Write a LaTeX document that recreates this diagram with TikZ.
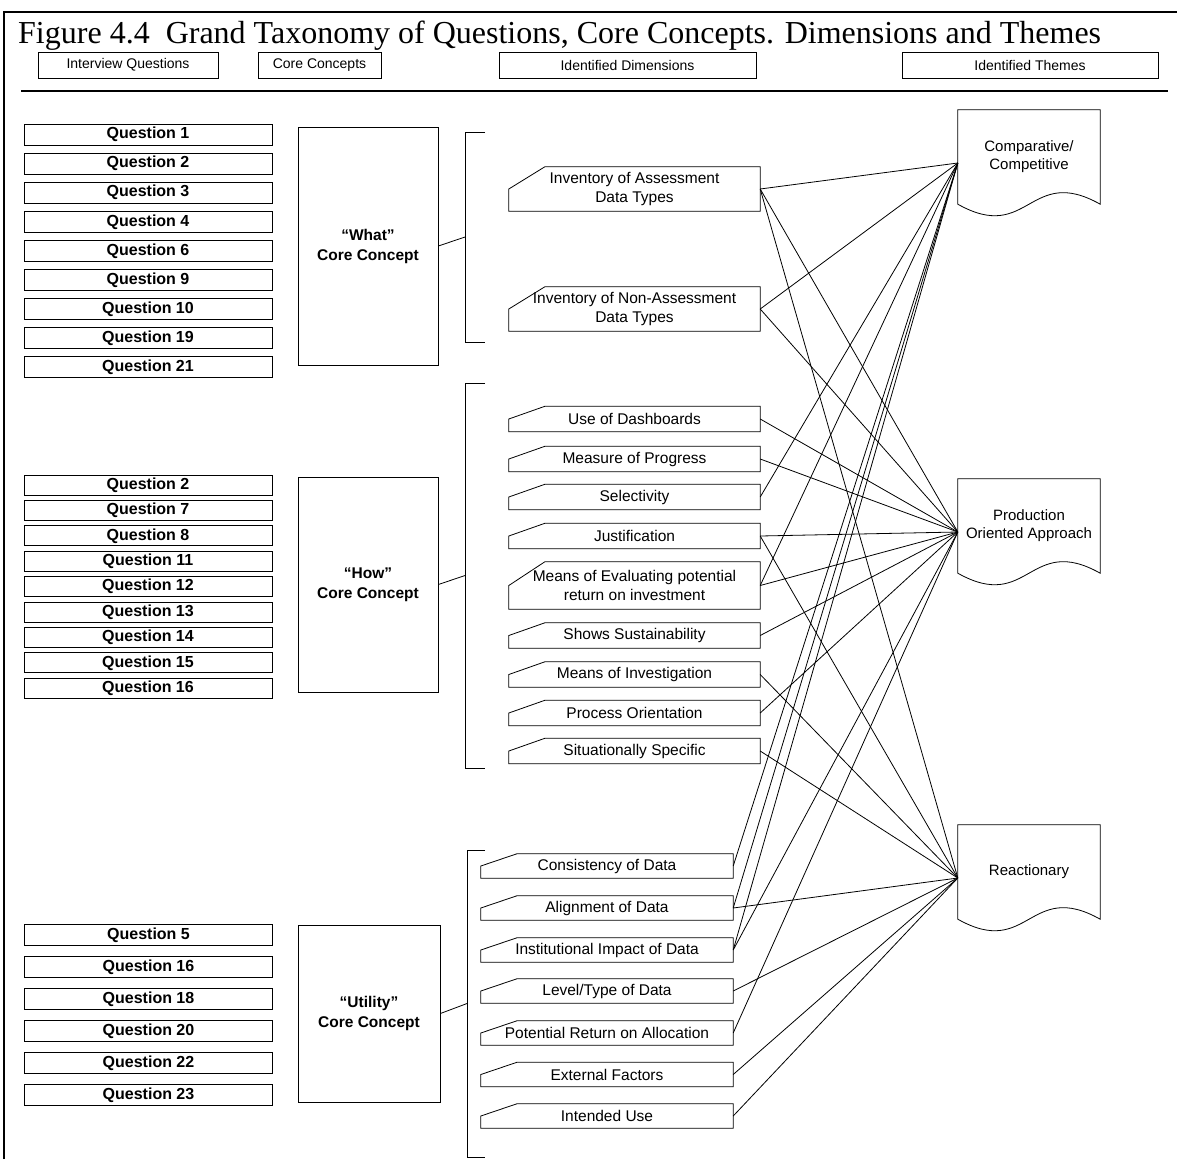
\documentclass[tikz,border=0pt]{standalone}
\usepackage{fontspec}
\setmainfont{Liberation Serif}
\setsansfont{Liberation Sans}
\usetikzlibrary{positioning}
\tikzset{headbox/.style={rectangle,draw=black,line width=0.8pt,inner sep=1pt,
minimum height=26pt,font=\sffamily\fontsize{14}{16}\selectfont}}
\tikzset{qbox/.style={rectangle,draw=black,line width=0.8pt,inner sep=0pt,
minimum width=248pt,minimum height=21pt,font=\sffamily\bfseries\fontsize{16}{18}\selectfont}}
\tikzset{conbox/.style={rectangle,draw=black,line width=0.8pt,align=center,inner sep=2pt,
minimum width=140pt,font=\sffamily\bfseries\fontsize{15.5}{20}\selectfont}}
\tikzset{dimbox/.style={rectangle,draw=none,align=center,inner sep=0pt,
minimum width=251pt,minimum height=25pt,font=\sffamily\fontsize{15.5}{19}\selectfont}}
\tikzset{themebox/.style={rectangle,draw=none,align=center,inner sep=0pt,
minimum width=142pt,minimum height=94pt,font=\sffamily\fontsize{15}{18}\selectfont}}
\tikzset{link/.style={line width=0.8pt}}
\newcommand{\dimshape}[1]{\draw[link] (#1.south west) -- (#1.west) -- ([xshift=36pt]#1.north west)
  -- (#1.north east) -- (#1.south east) -- cycle;}
\newcommand{\themeshape}[1]{\draw[link] (#1.south west) -- (#1.north west) -- (#1.north east)
  -- (#1.south east) .. controls ([yshift=40pt]#1.south) and ([yshift=-40pt]#1.south) .. (#1.south west) -- cycle;}

\begin{document}
\begin{tikzpicture}[x=1pt,y=-1pt]
    \useasboundingbox (0,0) rectangle (1177,1159);

    % frame and title
    \draw[line width=2pt] (4,1159) -- (4,12) -- (1177,12);
    \node[anchor=base west,inner sep=0pt,font=\fontsize{32}{36}\selectfont] (title) at (18,43)
        {Figure 4.4\ \ Grand Taxonomy of Questions, Core Concepts. Dimensions and Themes};

    \node[headbox,minimum width=180pt] (hdrques) at (128,65) {Interview Questions};
    \node[headbox,minimum width=123pt] (hdrcore) at (319.5,65) {Core Concepts};
    \node[headbox,minimum width=257pt] (hdrdims) at (627.5,65) {Identified Dimensions};
    \node[headbox,minimum width=256pt] (hdrthem) at (1030,65) {Identified Themes};
    \draw[line width=2pt] (21,91) -- (1168,91);

    % questions
    \node[qbox] (qwhat1) at (148,134.5) {Question 1};
    \node[qbox] (qwhat2) [below=7.3pt of qwhat1] {Question 2};
    \node[qbox] (qwhat3) [below=7.3pt of qwhat2] {Question 3};
    \node[qbox] (qwhat4) [below=7.3pt of qwhat3] {Question 4};
    \node[qbox] (qwhat5) [below=7.3pt of qwhat4] {Question 6};
    \node[qbox] (qwhat6) [below=7.3pt of qwhat5] {Question 9};
    \node[qbox] (qwhat7) [below=7.3pt of qwhat6] {Question 10};
    \node[qbox] (qwhat8) [below=7.3pt of qwhat7] {Question 19};
    \node[qbox] (qwhat9) [below=7.3pt of qwhat8] {Question 21};

    \node[qbox,minimum height=20pt] (qhow1) at (148,485) {Question 2};
    \node[qbox,minimum height=20pt] (qhow2) [below=4.6pt of qhow1] {Question 7};
    \node[qbox,minimum height=20pt] (qhow3) [below=4.6pt of qhow2] {Question 8};
    \node[qbox,minimum height=20pt] (qhow4) [below=4.6pt of qhow3] {Question 11};
    \node[qbox,minimum height=20pt] (qhow5) [below=4.6pt of qhow4] {Question 12};
    \node[qbox,minimum height=20pt] (qhow6) [below=4.6pt of qhow5] {Question 13};
    \node[qbox,minimum height=20pt] (qhow7) [below=4.6pt of qhow6] {Question 14};
    \node[qbox,minimum height=20pt] (qhow8) [below=4.6pt of qhow7] {Question 15};
    \node[qbox,minimum height=20pt] (qhow9) [below=4.6pt of qhow8] {Question 16};

    \node[qbox] (quse1) at (148.5,935) {Question 5};
    \node[qbox] (quse2) [below=10.2pt of quse1] {Question 16};
    \node[qbox] (quse3) [below=10.2pt of quse2] {Question 18};
    \node[qbox] (quse4) [below=10.2pt of quse3] {Question 20};
    \node[qbox] (quse5) [below=10.2pt of quse4] {Question 22};
    \node[qbox] (quse6) [below=10.2pt of quse5] {Question 23};

    % core concepts and brackets
    \node[conbox,minimum height=238pt] (what) at (368,246) {“What”\\Core Concept};
    \node[conbox,minimum height=215pt] (how) at (368,584.5) {“How”\\Core Concept};
    \node[conbox,minimum height=177pt,minimum width=142pt] (utility) at (369,1013.5) {“Utility”\\Core Concept};

    \coordinate (whatbr) at (465,237);
    \coordinate (howbr) at (465,575.5);
    \coordinate (utilbr) at (467,1003.5);
    \draw[link] (485,132) -- (465,132) -- (465,342) -- (485,342);
    \draw[link] (485,383) -- (465,383) -- (465,768) -- (485,768);
    \draw[link] (485,850) -- (467,850) -- (467,1157) -- (485,1157);
    \draw[link] (what.east) -- (whatbr);
    \draw[link] (how.east) -- (howbr);
    \draw[link] (utility.east) -- (utilbr);

    % dimensions
    \node[dimbox,minimum height=44pt] (invas) at (634.5,189) {Inventory of Assessment\\Data Types};
    \node[dimbox,minimum height=44pt] (invnon) at (634.5,309) {Inventory of Non-Assessment\\Data Types};
    \node[dimbox] (dash) at (634.5,419) {Use of Dashboards};
    \node[dimbox] (progress) at (634.5,459) {Measure of Progress};
    \node[dimbox] (select) at (634.5,497) {Selectivity};
    \node[dimbox] (justify) at (634.5,536) {Justification};
    \node[dimbox,minimum height=47pt] (evaluate) at (634.5,585.5) {Means of Evaluating potential\\return on investment};
    \node[dimbox] (sustain) at (634.5,635.5) {Shows Sustainability};
    \node[dimbox] (investig) at (634.5,674.5) {Means of Investigation};
    \node[dimbox] (process) at (634.5,713) {Process Orientation};
    \node[dimbox] (situat) at (634.5,751) {Situationally Specific};

    \node[dimbox,minimum width=252pt,minimum height=24pt] (consist) at (607,866) {Consistency of Data};
    \node[dimbox,minimum width=252pt,minimum height=24pt] (align) at (607,908) {Alignment of Data};
    \node[dimbox,minimum width=252pt,minimum height=24pt] (impact) at (607,950) {Institutional Impact of Data};
    \node[dimbox,minimum width=252pt,minimum height=24pt] (level) at (607,991) {Level/Type of Data};
    \node[dimbox,minimum width=252pt,minimum height=24pt] (potret) at (607,1033) {Potential Return on Allocation};
    \node[dimbox,minimum width=252pt,minimum height=24pt] (external) at (607,1074.5) {External Factors};
    \node[dimbox,minimum width=252pt,minimum height=24pt] (intended) at (607,1116) {Intended Use};

    \foreach \d in {invas,invnon,dash,progress,select,justify,evaluate,sustain,investig,process,situat,
                    consist,align,impact,level,potret,external,intended} {\dimshape{\d}}

    % themes
    \node[themebox] (compet) at (1029,157) {Comparative/\\Competitive};
    \node[themebox] (produc) at (1029,526) {Production\\Oriented Approach};
    \node[themebox] (reaction) at (1029,872) {Reactionary};
    \themeshape{compet}
    \themeshape{produc}
    \themeshape{reaction}

    \coordinate (competin) at ([yshift=-6pt]compet.west);
    \coordinate (producin) at ([yshift=-6pt]produc.west);
    \coordinate (reactin) at ([yshift=-6pt]reaction.west);

    % dimension to theme links
    \foreach \d in {invas,invnon,select,evaluate,consist,align,impact}
        \draw[link] (\d.east) -- (competin);
    \foreach \d in {invas,invnon,dash,progress,justify,evaluate,sustain,process,impact,potret}
        \draw[link] (\d.east) -- (producin);
    \foreach \d in {invas,justify,investig,situat,align,level,external,intended}
        \draw[link] (\d.east) -- (reactin);

\end{tikzpicture}
\end{document}
